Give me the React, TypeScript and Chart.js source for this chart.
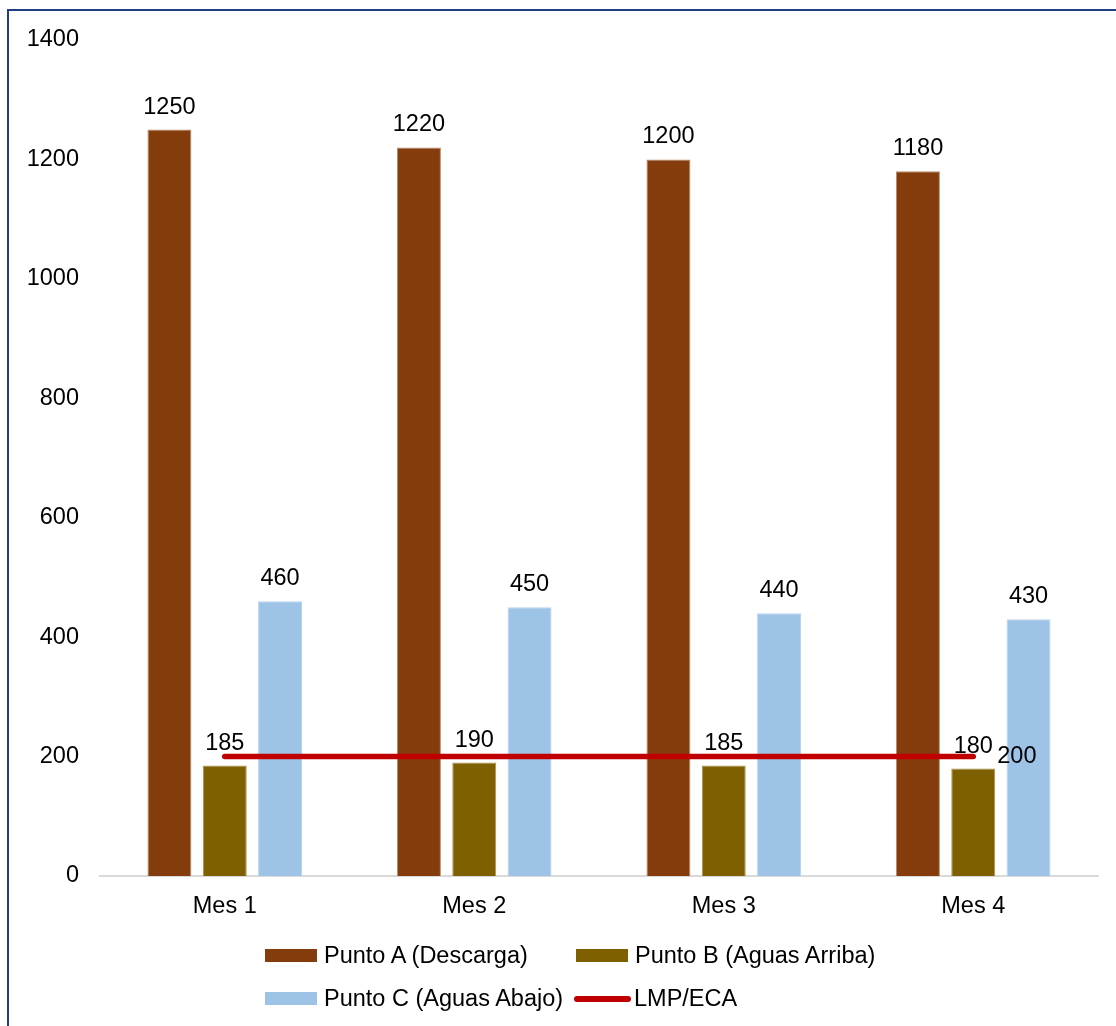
import React, { useEffect, useRef } from "react";
import { Chart, registerables } from "chart.js";

Chart.register(...registerables);

const categories = ["Mes 1", "Mes 2", "Mes 3", "Mes 4"];
const puntoA = [1250, 1220, 1200, 1180];
const puntoB = [185, 190, 185, 180];
const puntoC = [460, 450, 440, 430];
const lmpEca = [200, 200, 200, 200];
const yTicks = [0, 200, 400, 600, 800, 1000, 1200, 1400];

const seriesNames = [
  "Punto A (Descarga)",
  "Punto B (Aguas Arriba)",
  "Punto C (Aguas Abajo)",
  "LMP/ECA",
];
const colors = ["#843c0c", "#7f6000", "#9dc3e6", "#c00000"];
const borderColors = ["#b98a6a", "#a8914a", "#b6d3ee", "#c00000"];

const FONT = '"Liberation Sans", Arial, sans-serif';
const FS = 23.5;

const labelPlugin = {
  id: "valueLabels",
  afterDatasetsDraw(chart: any) {
    const ctx = chart.ctx;
    ctx.save();
    ctx.font = `${FS}px ${FONT}`;
    ctx.fillStyle = "#000";
    chart.data.datasets.forEach((ds: any, i: number) => {
      const meta = chart.getDatasetMeta(i);
      if (ds.type === "line") {
        const last = meta.data[meta.data.length - 1];
        const v = ds.data[ds.data.length - 1];
        ctx.textAlign = "left";
        ctx.textBaseline = "middle";
        ctx.fillText(String(v), last.x + 24, last.y);
      } else {
        meta.data.forEach((el: any, j: number) => {
          ctx.textAlign = "center";
          ctx.textBaseline = "alphabetic";
          ctx.fillText(String(ds.data[j]), el.x, el.y - 16);
        });
      }
    });
    ctx.restore();
  },
};

export default function App() {
  const ref = useRef<HTMLCanvasElement | null>(null);

  useEffect(() => {
    if (!ref.current) return;
    const barDs = [puntoA, puntoB, puntoC].map((d, i) => ({
      type: "bar" as const,
      label: seriesNames[i],
      data: d,
      backgroundColor: colors[i],
      borderColor: borderColors[i],
      borderWidth: 1,
      categoryPercentage: 0.665,
      barPercentage: 0.795,
      order: 1,
    }));
    const chart = new Chart(ref.current, {
      type: "bar",
      data: {
        labels: categories,
        datasets: [
          ...barDs,
          {
            type: "line" as const,
            label: seriesNames[3],
            data: lmpEca,
            borderColor: colors[3],
            backgroundColor: colors[3],
            borderWidth: 5.5,
            borderCapStyle: "round",
            pointRadius: 0,
            pointHoverRadius: 0,
            order: -1,
          } as any,
        ],
      },
      options: {
        responsive: false,
        animation: false,
        layout: { padding: { top: 29, right: 18, left: 0, bottom: 0 } },
        plugins: {
          legend: { display: false },
          tooltip: { enabled: false },
        },
        scales: {
          x: {
            grid: { display: false, drawTicks: false },
            border: { display: true, color: "#d9d9d9", width: 2 },
            ticks: {
              color: "#000",
              font: { family: FONT, size: FS },
              padding: 16,
            },
            afterFit: (s: any) => {
              s.height = 60;
            },
          },
          y: {
            min: 0,
            max: 1400,
            grid: { display: false, drawTicks: false },
            border: { display: false },
            afterBuildTicks: (s: any) => {
              s.ticks = yTicks.map((v) => ({ value: v }));
            },
            ticks: {
              color: "#000",
              font: { family: FONT, size: FS },
              padding: 21,
              callback: (v: any) => String(v),
            },
            afterFit: (s: any) => {
              s.width = 91;
              s.paddingTop = 0;
              s.paddingBottom = 0;
            },
          },
        },
      },
      plugins: [labelPlugin],
    });
    return () => chart.destroy();
  }, []);

  const legendItem = (i: number) => (
    <div
      key={i}
      style={{ display: "flex", alignItems: "center", height: 43 }}
    >
      {i === 3 ? (
        <div
          style={{
            width: 57,
            height: 6,
            borderRadius: 3,
            background: colors[3],
            marginLeft: -2,
            marginRight: 3,
          }}
        />
      ) : (
        <div
          style={{
            width: 52,
            height: 13,
            background: colors[i],
            marginRight: 7,
          }}
        />
      )}
      <span
        style={{
          fontFamily: FONT,
          fontSize: FS,
          color: "#000",
          whiteSpace: "nowrap",
        }}
      >
        {seriesNames[i]}
      </span>
    </div>
  );

  return (
    <div>
      <div
        style={{
          position: "absolute",
          left: 7,
          top: 9,
          width: 1109,
          height: 1017,
          boxSizing: "border-box",
          borderTop: "2px solid #203f80",
          borderLeft: "2px solid #203f80",
        }}
      />
      <canvas
        ref={ref}
        width={1107}
        height={925}
        style={{
          position: "absolute",
          left: 9,
          top: 11,
          width: 1107,
          height: 925,
        }}
      />
      <div
        style={{
          position: "absolute",
          left: 265,
          top: 934,
          display: "grid",
          gridTemplateColumns: "311px auto",
          gridAutoRows: "43px",
        }}
      >
        {[0, 1, 2, 3].map((i) => legendItem(i))}
      </div>
    </div>
  );
}
